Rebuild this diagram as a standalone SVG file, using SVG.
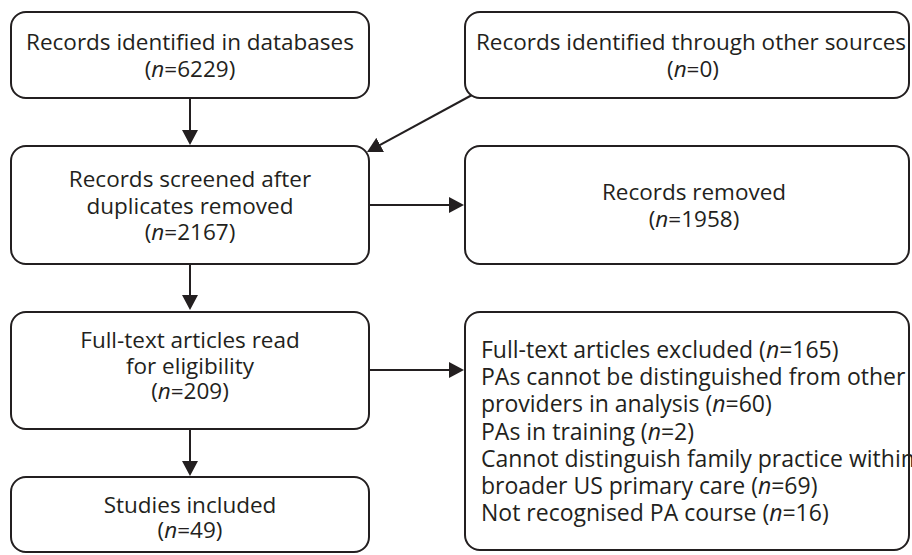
<svg xmlns="http://www.w3.org/2000/svg" width="912" height="555" viewBox="0 0 912 555">
<defs>
<style>
.box{fill:#ffffff;stroke:#231f20;stroke-width:2}
.t{font-family:"Open Sans","Noto Sans","DejaVu Sans",sans-serif;font-size:22.5px;fill:#231f20}
.c{text-anchor:middle}
.l{font-size:23px}
.i{font-style:italic}
.con{fill:none;stroke:#231f20;stroke-width:2}
</style>
<marker id="ah" viewBox="0 0 15 16" refX="11" refY="8" markerWidth="15" markerHeight="16" markerUnits="userSpaceOnUse" orient="auto">
<path d="M0,0 L15,8 L0,16 Z" fill="#231f20"/>
</marker>
</defs>
<rect width="912" height="555" fill="#ffffff"/>
<g id="connectors">
<line class="con" x1="190" y1="98" x2="190" y2="141" marker-end="url(#ah)"/>
<line class="con" x1="472" y1="95" x2="370.5" y2="150.1" marker-end="url(#ah)"/>
<line class="con" x1="369" y1="205" x2="460" y2="205" marker-end="url(#ah)"/>
<line class="con" x1="190" y1="264" x2="190" y2="306" marker-end="url(#ah)"/>
<line class="con" x1="369" y1="370" x2="460" y2="370" marker-end="url(#ah)"/>
<line class="con" x1="190" y1="429" x2="190" y2="472" marker-end="url(#ah)"/>
</g>
<g id="databases">
<rect class="box" x="11" y="12" width="358" height="86" rx="15"/>
<text class="t c" x="190" y="50">Records identified in databases<tspan x="190" dy="26.5">(<tspan class="i">n</tspan>=6229)</tspan></text>
</g>
<g id="other-sources">
<rect class="box" x="465" y="12" width="444" height="86" rx="15"/>
<text class="t c" x="691" y="50">Records identified through other sources<tspan x="693" dy="26.5">(<tspan class="i">n</tspan>=0)</tspan></text>
</g>
<g id="screened">
<rect class="box" x="11" y="146" width="358" height="118" rx="15"/>
<text class="t c" x="190" y="187">Records screened after<tspan x="190" dy="26.5">duplicates removed</tspan><tspan x="190" dy="26.5">(<tspan class="i">n</tspan>=2167)</tspan></text>
</g>
<g id="removed">
<rect class="box" x="465" y="146" width="444" height="118" rx="15"/>
<text class="t c" x="694" y="200">Records removed<tspan x="694" dy="27">(<tspan class="i">n</tspan>=1958)</tspan></text>
</g>
<g id="fulltext">
<rect class="box" x="11" y="312" width="358" height="117" rx="15"/>
<text class="t c" x="190" y="348">Full-text articles read<tspan x="190" dy="25.5">for eligibility</tspan><tspan x="190" dy="25.5">(<tspan class="i">n</tspan>=209)</tspan></text>
</g>
<g id="excluded">
<rect class="box" x="465" y="312" width="444" height="238" rx="15"/>
<text class="t l" x="481" y="358">Full-text articles excluded (<tspan class="i">n</tspan>=165)<tspan x="481" dy="27.2">PAs cannot be distinguished from other</tspan><tspan x="481" dy="27.2">providers in analysis (<tspan class="i">n</tspan>=60)</tspan><tspan x="481" dy="27.2">PAs in training (<tspan class="i">n</tspan>=2)</tspan><tspan x="481" dy="27.2">Cannot distinguish family practice within</tspan><tspan x="481" dy="27.2">broader US primary care (<tspan class="i">n</tspan>=69)</tspan><tspan x="481" dy="27.2">Not recognised PA course (<tspan class="i">n</tspan>=16)</tspan></text>
</g>
<g id="included">
<rect class="box" x="11" y="477" width="358" height="75" rx="15"/>
<text class="t c" x="190" y="513">Studies included<tspan x="190" dy="25">(<tspan class="i">n</tspan>=49)</tspan></text>
</g>
</svg>
